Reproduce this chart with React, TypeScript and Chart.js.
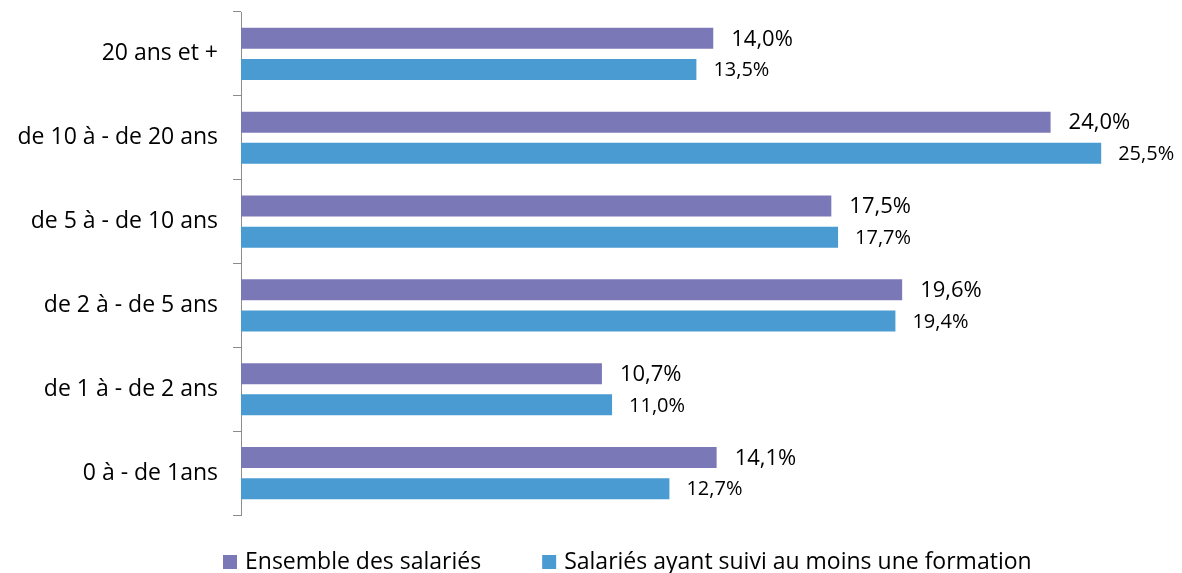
import React, { useEffect, useRef } from "react";
import { Chart, registerables } from "chart.js";

Chart.register(...registerables);

const categories = [
  "20 ans et +",
  "de 10 à - de 20 ans",
  "de 5 à - de 10 ans",
  "de 2 à - de 5 ans",
  "de 1 à - de 2 ans",
  "0 à - de 1ans",
];
const ensembleLabel = "Ensemble des salariés";
const formationLabel = "Salariés ayant suivi au moins une formation";
const ensembleValues = [14.0, 24.0, 17.5, 19.6, 10.7, 14.1];
const formationValues = [13.5, 25.5, 17.7, 19.4, 11.0, 12.7];

const PURPLE = "#7B78B7";
const BLUE = "#4A9BD2";
const FONT = "'Open Sans', 'DejaVu Sans', sans-serif";

const fmt = (v: number) => v.toFixed(1).replace(".", ",") + "%";

const valueLabels = {
  id: "valueLabels",
  afterDatasetsDraw(chart: any) {
    const ctx = chart.ctx;
    ctx.save();
    ctx.fillStyle = "#000";
    ctx.textBaseline = "middle";
    ctx.textAlign = "left";
    chart.data.datasets.forEach((ds: any, di: number) => {
      const meta = chart.getDatasetMeta(di);
      ctx.font = (di === 0 ? "22px " : "20px ") + FONT;
      meta.data.forEach((bar: any, i: number) => {
        ctx.fillText(fmt(ds.data[i]), bar.x + (di === 0 ? 18 : 17), bar.y + 1);
      });
    });
    ctx.restore();
  },
};

const customLegend = {
  id: "customLegend",
  afterDraw(chart: any) {
    const ctx = chart.ctx;
    ctx.save();
    ctx.font = "23px " + FONT;
    ctx.textBaseline = "alphabetic";
    ctx.textAlign = "left";
    let x = 223;
    const baseline = chart.height - 4;
    chart.data.datasets.forEach((ds: any) => {
      ctx.fillStyle = ds.backgroundColor;
      ctx.fillRect(x, baseline - 14, 14, 14);
      ctx.fillStyle = "#000";
      ctx.fillText(ds.label, x + 22, baseline);
      x += 22 + ctx.measureText(ds.label).width + 61;
    });
    ctx.restore();
  },
};

export default function App() {
  const ref = useRef<HTMLCanvasElement>(null);
  useEffect(() => {
    if (!ref.current) return;
    const chart = new Chart(ref.current, {
      type: "bar",
      data: {
        labels: categories,
        datasets: [
          { label: ensembleLabel, data: ensembleValues, backgroundColor: PURPLE },
          { label: formationLabel, data: formationValues, backgroundColor: BLUE },
        ],
      },
      options: {
        indexAxis: "y",
        animation: false,
        responsive: false,
        events: [],
        layout: { padding: { top: 12, bottom: 58, right: 12, left: 0 } },
        datasets: {
          bar: { categoryPercentage: 0.743, barPercentage: 0.673 },
        },
        plugins: { legend: { display: false }, tooltip: { enabled: false } },
        scales: {
          x: { display: false, min: 0, max: 27.54 },
          y: {
            afterFit: (s: any) => {
              s.width = 241;
              s.paddingTop = 0;
              s.paddingBottom = 0;
            },
            grid: {
              display: true,
              drawOnChartArea: false,
              drawTicks: true,
              tickLength: 8,
              color: "#8c8c8c",
              offset: true,
            },
            border: { display: true, color: "#8c8c8c", width: 1 },
            ticks: {
              padding: 15,
              color: "#000",
              font: { family: FONT, size: 23 },
            },
          },
        },
      },
      plugins: [valueLabels, customLegend],
    } as any);
    return () => chart.destroy();
  }, []);
  return (
    <div style={{ position: "absolute", left: 0, top: 0, width: 1182, height: 573 }}>
      <canvas ref={ref} width={1182} height={573} />
    </div>
  );
}
